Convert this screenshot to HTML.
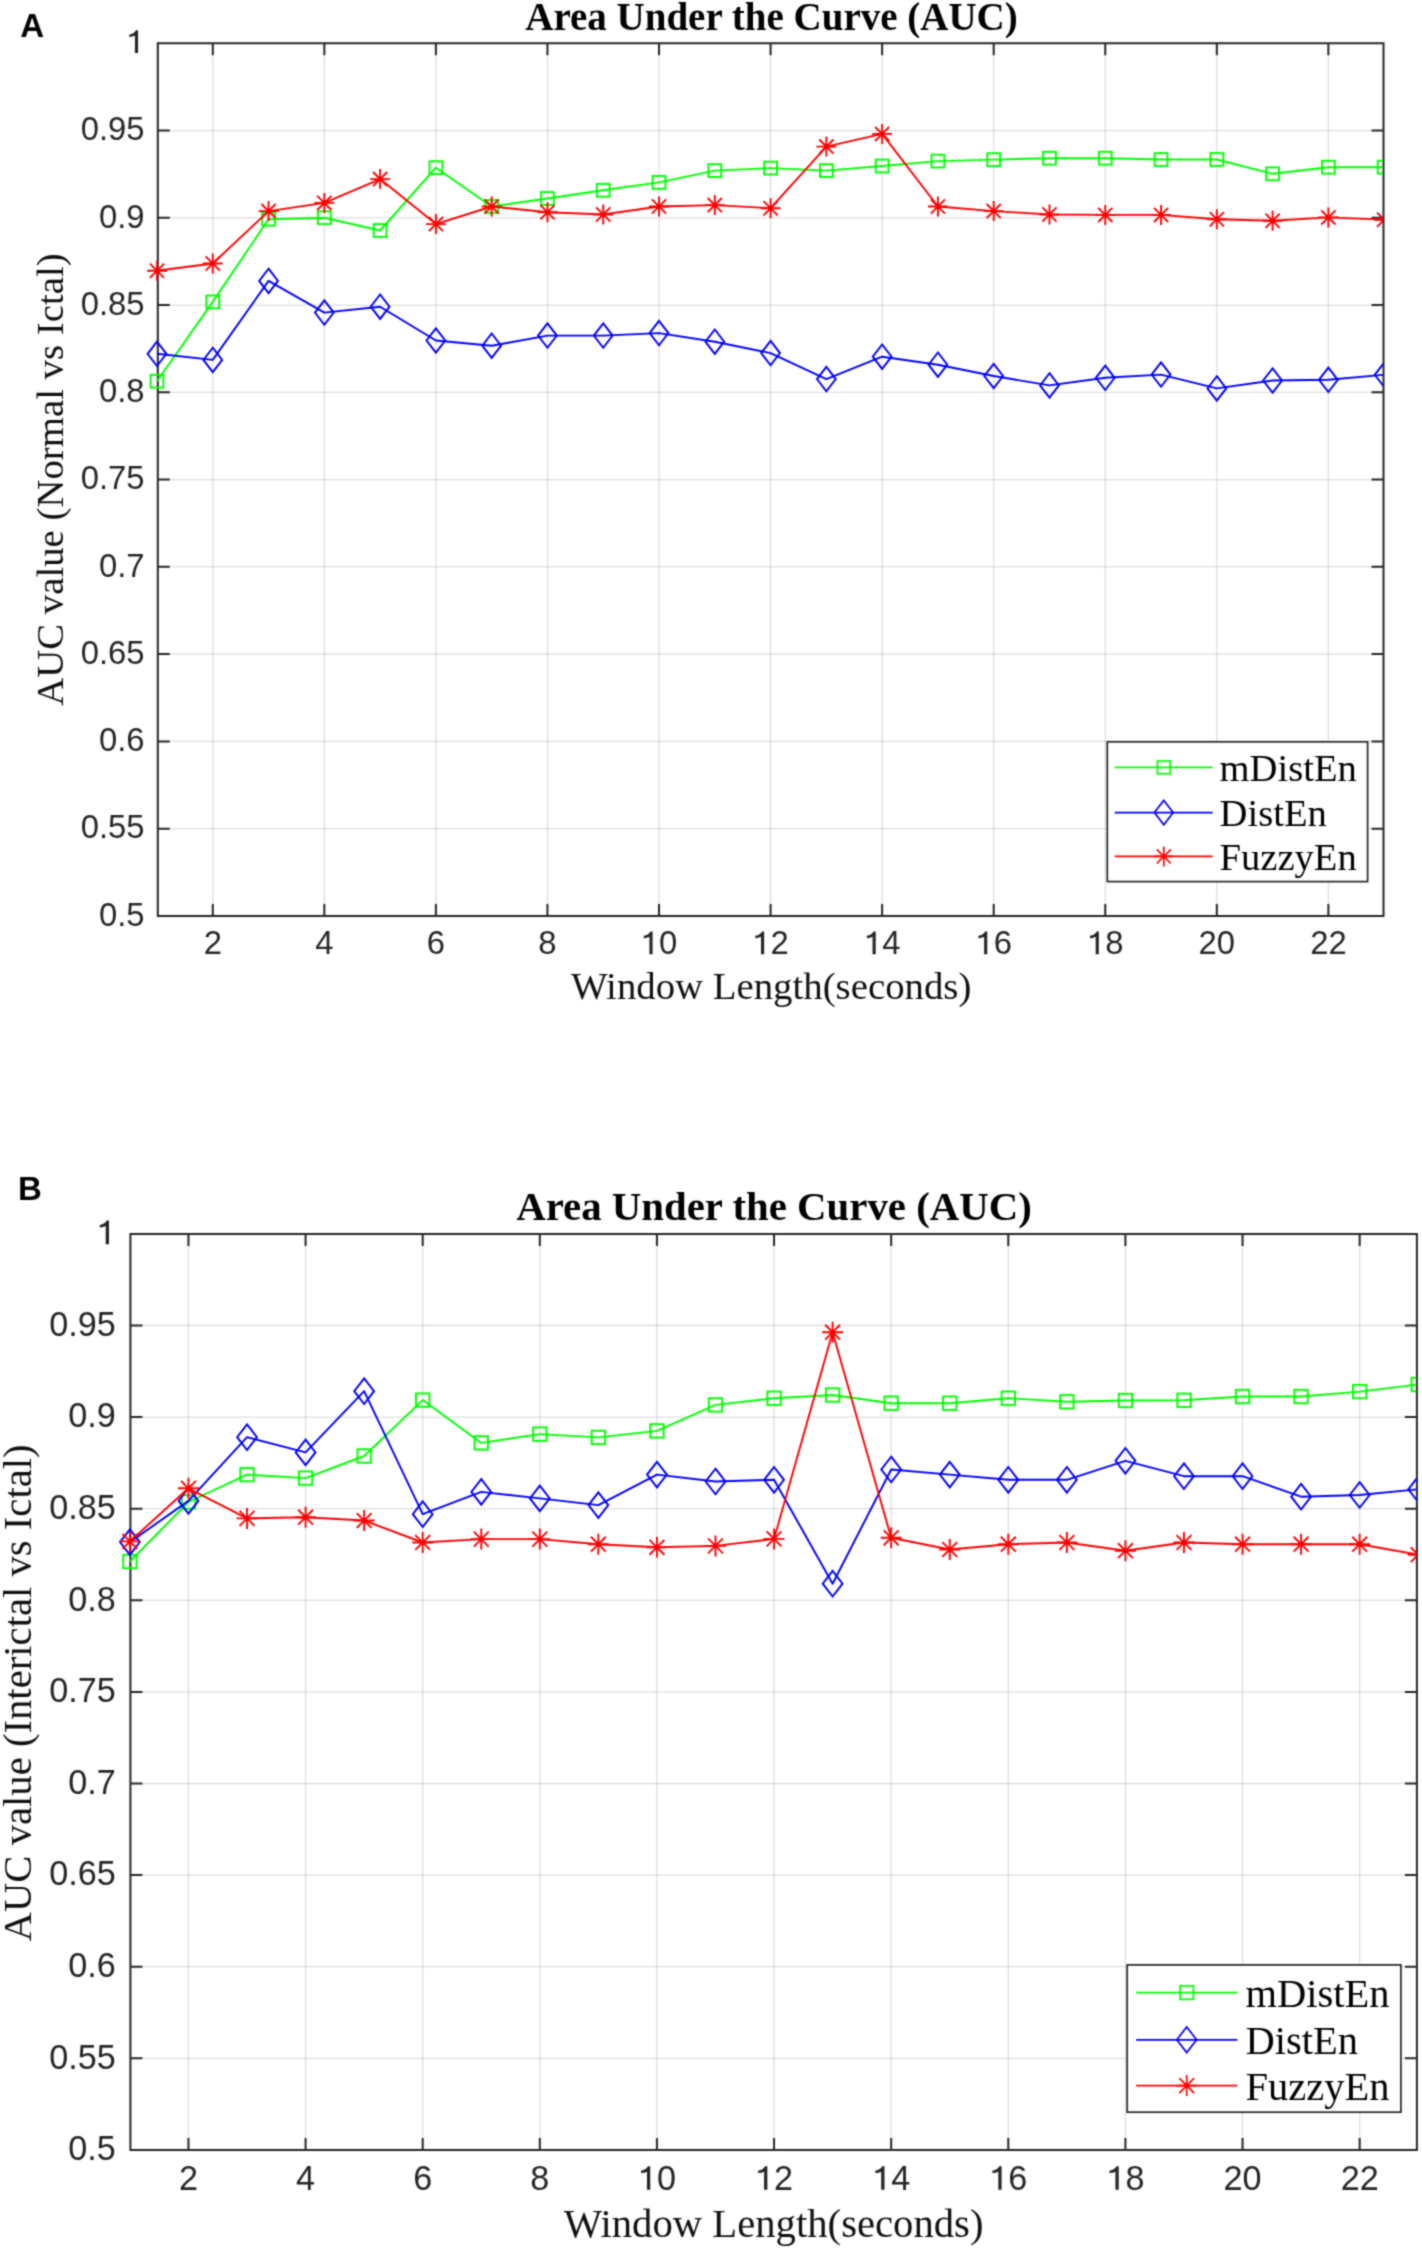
<!DOCTYPE html>
<html><head><meta charset="utf-8"><title>AUC</title>
<style>
html,body{margin:0;padding:0;background:#fff;}
body{width:1422px;height:2250px;overflow:hidden;}
svg{display:block;}
.tk{font-family:"Liberation Sans",sans-serif;fill:#262626;}
.tkg path{fill:#262626;}
.ttl{font-family:"Liberation Serif",serif;font-weight:bold;fill:#000;}
.lbl{font-family:"Liberation Serif",serif;fill:#111;}
.leg{font-family:"Liberation Serif",serif;fill:#000;}
.pl{font-family:"Liberation Sans",sans-serif;font-weight:bold;fill:#000;}
</style></head>
<body>
<svg width="1422" height="2250" viewBox="0 0 1422 2250">
<defs><clipPath id="clipa"><rect x="0" y="0" width="1383.00" height="2250"/></clipPath><clipPath id="clipb"><rect x="0" y="0" width="1416.40" height="2250"/></clipPath><filter id="soft" x="0" y="0" width="1422" height="2250" filterUnits="userSpaceOnUse" color-interpolation-filters="sRGB"><feConvolveMatrix order="3" kernelMatrix="0.04 0.12 0.04 0.12 0.36 0.12 0.04 0.12 0.04" edgeMode="duplicate"/></filter></defs>
<g filter="url(#soft)">
<rect width="1422" height="2250" fill="#fff"/>
<path d="M212.78 43.30V915.90M324.34 43.30V915.90M435.90 43.30V915.90M547.46 43.30V915.90M659.02 43.30V915.90M770.58 43.30V915.90M882.14 43.30V915.90M993.70 43.30V915.90M1105.26 43.30V915.90M1216.82 43.30V915.90M1328.38 43.30V915.90" stroke="#262626" stroke-opacity="0.15" stroke-width="1.3" fill="none"/>
<path d="M157.80 828.64H1383.50M157.80 741.38H1383.50M157.80 654.12H1383.50M157.80 566.86H1383.50M157.80 479.60H1383.50M157.80 392.34H1383.50M157.80 305.08H1383.50M157.80 217.82H1383.50M157.80 130.56H1383.50" stroke="#262626" stroke-opacity="0.15" stroke-width="1.3" fill="none"/>
<path d="M157.80 43.30H1383.50V915.90H157.80ZM212.78 915.90v-12M212.78 43.30v12M324.34 915.90v-12M324.34 43.30v12M435.90 915.90v-12M435.90 43.30v12M547.46 915.90v-12M547.46 43.30v12M659.02 915.90v-12M659.02 43.30v12M770.58 915.90v-12M770.58 43.30v12M882.14 915.90v-12M882.14 43.30v12M993.70 915.90v-12M993.70 43.30v12M1105.26 915.90v-12M1105.26 43.30v12M1216.82 915.90v-12M1216.82 43.30v12M1328.38 915.90v-12M1328.38 43.30v12M157.80 828.64h12M1383.50 828.64h-12M157.80 741.38h12M1383.50 741.38h-12M157.80 654.12h12M1383.50 654.12h-12M157.80 566.86h12M1383.50 566.86h-12M157.80 479.60h12M1383.50 479.60h-12M157.80 392.34h12M1383.50 392.34h-12M157.80 305.08h12M1383.50 305.08h-12M157.80 217.82h12M1383.50 217.82h-12M157.80 130.56h12M1383.50 130.56h-12" stroke="#262626" stroke-width="2.0" fill="none" stroke-linejoin="miter"/>
<g clip-path="url(#clipa)">
<polyline points="157.00,381.20 212.78,301.90 268.56,219.20 324.34,217.70 380.12,230.50 435.90,167.70 491.68,206.50 547.46,198.50 603.24,190.30 659.02,182.40 714.80,170.60 770.58,168.10 826.36,170.60 882.14,166.00 937.92,161.10 993.70,159.60 1049.48,158.20 1105.26,158.20 1161.04,159.50 1216.82,159.50 1272.60,173.80 1328.38,167.20 1384.16,167.20" fill="none" stroke="#00ff00" stroke-width="1.9" stroke-linejoin="round"/>
<g fill="none" stroke="#00ff00" stroke-width="1.9"><rect x="150.60" y="374.80" width="12.80" height="12.80"/><rect x="206.38" y="295.50" width="12.80" height="12.80"/><rect x="262.16" y="212.80" width="12.80" height="12.80"/><rect x="317.94" y="211.30" width="12.80" height="12.80"/><rect x="373.72" y="224.10" width="12.80" height="12.80"/><rect x="429.50" y="161.30" width="12.80" height="12.80"/><rect x="485.28" y="200.10" width="12.80" height="12.80"/><rect x="541.06" y="192.10" width="12.80" height="12.80"/><rect x="596.84" y="183.90" width="12.80" height="12.80"/><rect x="652.62" y="176.00" width="12.80" height="12.80"/><rect x="708.40" y="164.20" width="12.80" height="12.80"/><rect x="764.18" y="161.70" width="12.80" height="12.80"/><rect x="819.96" y="164.20" width="12.80" height="12.80"/><rect x="875.74" y="159.60" width="12.80" height="12.80"/><rect x="931.52" y="154.70" width="12.80" height="12.80"/><rect x="987.30" y="153.20" width="12.80" height="12.80"/><rect x="1043.08" y="151.80" width="12.80" height="12.80"/><rect x="1098.86" y="151.80" width="12.80" height="12.80"/><rect x="1154.64" y="153.10" width="12.80" height="12.80"/><rect x="1210.42" y="153.10" width="12.80" height="12.80"/><rect x="1266.20" y="167.40" width="12.80" height="12.80"/><rect x="1321.98" y="160.80" width="12.80" height="12.80"/><rect x="1377.76" y="160.80" width="12.80" height="12.80"/></g>
<polyline points="157.00,353.80 212.78,359.90 268.56,280.90 324.34,312.60 380.12,306.70 435.90,340.50 491.68,345.70 547.46,335.60 603.24,335.60 659.02,333.10 714.80,341.70 770.58,353.10 826.36,379.10 882.14,356.70 937.92,364.70 993.70,376.00 1049.48,385.40 1105.26,377.80 1161.04,374.60 1216.82,388.40 1272.60,380.50 1328.38,379.80 1384.16,374.80" fill="none" stroke="#0000ff" stroke-width="1.9" stroke-linejoin="round"/>
<g fill="none" stroke="#0000ff" stroke-width="1.9"><path d="M157.00 341.60L166.40 353.80L157.00 366.00L147.60 353.80Z"/><path d="M212.78 347.70L222.18 359.90L212.78 372.10L203.38 359.90Z"/><path d="M268.56 268.70L277.96 280.90L268.56 293.10L259.16 280.90Z"/><path d="M324.34 300.40L333.74 312.60L324.34 324.80L314.94 312.60Z"/><path d="M380.12 294.50L389.52 306.70L380.12 318.90L370.72 306.70Z"/><path d="M435.90 328.30L445.30 340.50L435.90 352.70L426.50 340.50Z"/><path d="M491.68 333.50L501.08 345.70L491.68 357.90L482.28 345.70Z"/><path d="M547.46 323.40L556.86 335.60L547.46 347.80L538.06 335.60Z"/><path d="M603.24 323.40L612.64 335.60L603.24 347.80L593.84 335.60Z"/><path d="M659.02 320.90L668.42 333.10L659.02 345.30L649.62 333.10Z"/><path d="M714.80 329.50L724.20 341.70L714.80 353.90L705.40 341.70Z"/><path d="M770.58 340.90L779.98 353.10L770.58 365.30L761.18 353.10Z"/><path d="M826.36 366.90L835.76 379.10L826.36 391.30L816.96 379.10Z"/><path d="M882.14 344.50L891.54 356.70L882.14 368.90L872.74 356.70Z"/><path d="M937.92 352.50L947.32 364.70L937.92 376.90L928.52 364.70Z"/><path d="M993.70 363.80L1003.10 376.00L993.70 388.20L984.30 376.00Z"/><path d="M1049.48 373.20L1058.88 385.40L1049.48 397.60L1040.08 385.40Z"/><path d="M1105.26 365.60L1114.66 377.80L1105.26 390.00L1095.86 377.80Z"/><path d="M1161.04 362.40L1170.44 374.60L1161.04 386.80L1151.64 374.60Z"/><path d="M1216.82 376.20L1226.22 388.40L1216.82 400.60L1207.42 388.40Z"/><path d="M1272.60 368.30L1282.00 380.50L1272.60 392.70L1263.20 380.50Z"/><path d="M1328.38 367.60L1337.78 379.80L1328.38 392.00L1318.98 379.80Z"/><path d="M1384.16 362.60L1393.56 374.80L1384.16 387.00L1374.76 374.80Z"/></g>
<polyline points="157.00,270.80 212.78,263.50 268.56,211.10 324.34,202.90 380.12,179.10 435.90,224.10 491.68,206.50 547.46,212.20 603.24,214.50 659.02,206.50 714.80,205.10 770.58,208.20 826.36,146.60 882.14,133.90 937.92,206.50 993.70,211.10 1049.48,214.50 1105.26,214.90 1161.04,214.90 1216.82,219.20 1272.60,220.80 1328.38,217.40 1384.16,219.70" fill="none" stroke="#ff0000" stroke-width="1.9" stroke-linejoin="round"/>
<g fill="none" stroke="#ff0000" stroke-width="1.9"><path d="M147.00 270.80H167.00M157.00 260.80V280.80M149.90 263.70L164.10 277.90M149.90 277.90L164.10 263.70"/><path d="M202.78 263.50H222.78M212.78 253.50V273.50M205.68 256.40L219.88 270.60M205.68 270.60L219.88 256.40"/><path d="M258.56 211.10H278.56M268.56 201.10V221.10M261.46 204.00L275.66 218.20M261.46 218.20L275.66 204.00"/><path d="M314.34 202.90H334.34M324.34 192.90V212.90M317.24 195.80L331.44 210.00M317.24 210.00L331.44 195.80"/><path d="M370.12 179.10H390.12M380.12 169.10V189.10M373.02 172.00L387.22 186.20M373.02 186.20L387.22 172.00"/><path d="M425.90 224.10H445.90M435.90 214.10V234.10M428.80 217.00L443.00 231.20M428.80 231.20L443.00 217.00"/><path d="M481.68 206.50H501.68M491.68 196.50V216.50M484.58 199.40L498.78 213.60M484.58 213.60L498.78 199.40"/><path d="M537.46 212.20H557.46M547.46 202.20V222.20M540.36 205.10L554.56 219.30M540.36 219.30L554.56 205.10"/><path d="M593.24 214.50H613.24M603.24 204.50V224.50M596.14 207.40L610.34 221.60M596.14 221.60L610.34 207.40"/><path d="M649.02 206.50H669.02M659.02 196.50V216.50M651.92 199.40L666.12 213.60M651.92 213.60L666.12 199.40"/><path d="M704.80 205.10H724.80M714.80 195.10V215.10M707.70 198.00L721.90 212.20M707.70 212.20L721.90 198.00"/><path d="M760.58 208.20H780.58M770.58 198.20V218.20M763.48 201.10L777.68 215.30M763.48 215.30L777.68 201.10"/><path d="M816.36 146.60H836.36M826.36 136.60V156.60M819.26 139.50L833.46 153.70M819.26 153.70L833.46 139.50"/><path d="M872.14 133.90H892.14M882.14 123.90V143.90M875.04 126.80L889.24 141.00M875.04 141.00L889.24 126.80"/><path d="M927.92 206.50H947.92M937.92 196.50V216.50M930.82 199.40L945.02 213.60M930.82 213.60L945.02 199.40"/><path d="M983.70 211.10H1003.70M993.70 201.10V221.10M986.60 204.00L1000.80 218.20M986.60 218.20L1000.80 204.00"/><path d="M1039.48 214.50H1059.48M1049.48 204.50V224.50M1042.38 207.40L1056.58 221.60M1042.38 221.60L1056.58 207.40"/><path d="M1095.26 214.90H1115.26M1105.26 204.90V224.90M1098.16 207.80L1112.36 222.00M1098.16 222.00L1112.36 207.80"/><path d="M1151.04 214.90H1171.04M1161.04 204.90V224.90M1153.94 207.80L1168.14 222.00M1153.94 222.00L1168.14 207.80"/><path d="M1206.82 219.20H1226.82M1216.82 209.20V229.20M1209.72 212.10L1223.92 226.30M1209.72 226.30L1223.92 212.10"/><path d="M1262.60 220.80H1282.60M1272.60 210.80V230.80M1265.50 213.70L1279.70 227.90M1265.50 227.90L1279.70 213.70"/><path d="M1318.38 217.40H1338.38M1328.38 207.40V227.40M1321.28 210.30L1335.48 224.50M1321.28 224.50L1335.48 210.30"/><path d="M1374.16 219.70H1394.16M1384.16 209.70V229.70M1377.06 212.60L1391.26 226.80M1377.06 226.80L1391.26 212.60"/></g>
</g>
<text x="203.66" y="954.20" class="tk" font-size="32.8">2</text>
<text x="315.22" y="954.20" class="tk" font-size="32.8">4</text>
<text x="426.78" y="954.20" class="tk" font-size="32.8">6</text>
<text x="538.34" y="954.20" class="tk" font-size="32.8">8</text>
<path d="M649.44 954.20L652.59 954.20L652.59 931.57L650.43 931.57Q648.98 934.85 643.74 935.83L643.74 938.19Q647.51 937.93 649.44 936.82Z" fill="#262626"/><text x="659.02" y="954.20" class="tk" font-size="32.8">0</text>
<path d="M761.00 954.20L764.15 954.20L764.15 931.57L761.99 931.57Q760.54 934.85 755.30 935.83L755.30 938.19Q759.07 937.93 761.00 936.82Z" fill="#262626"/><text x="770.58" y="954.20" class="tk" font-size="32.8">2</text>
<path d="M872.56 954.20L875.71 954.20L875.71 931.57L873.55 931.57Q872.10 934.85 866.86 935.83L866.86 938.19Q870.63 937.93 872.56 936.82Z" fill="#262626"/><text x="882.14" y="954.20" class="tk" font-size="32.8">4</text>
<path d="M984.12 954.20L987.27 954.20L987.27 931.57L985.11 931.57Q983.66 934.85 978.42 935.83L978.42 938.19Q982.19 937.93 984.12 936.82Z" fill="#262626"/><text x="993.70" y="954.20" class="tk" font-size="32.8">6</text>
<path d="M1095.68 954.20L1098.83 954.20L1098.83 931.57L1096.67 931.57Q1095.22 934.85 1089.98 935.83L1089.98 938.19Q1093.75 937.93 1095.68 936.82Z" fill="#262626"/><text x="1105.26" y="954.20" class="tk" font-size="32.8">8</text>
<text x="1198.58" y="954.20" class="tk" font-size="32.8">2</text><text x="1216.82" y="954.20" class="tk" font-size="32.8">0</text>
<text x="1310.14" y="954.20" class="tk" font-size="32.8">2</text><text x="1328.38" y="954.20" class="tk" font-size="32.8">2</text>
<text x="98.91" y="925.60" class="tk" font-size="32.8">0</text><text x="117.14" y="925.60" class="tk" font-size="32.8">.</text><text x="126.26" y="925.60" class="tk" font-size="32.8">5</text>
<text x="80.67" y="838.34" class="tk" font-size="32.8">0</text><text x="98.91" y="838.34" class="tk" font-size="32.8">.</text><text x="108.03" y="838.34" class="tk" font-size="32.8">5</text><text x="126.26" y="838.34" class="tk" font-size="32.8">5</text>
<text x="98.91" y="751.08" class="tk" font-size="32.8">0</text><text x="117.14" y="751.08" class="tk" font-size="32.8">.</text><text x="126.26" y="751.08" class="tk" font-size="32.8">6</text>
<text x="80.67" y="663.82" class="tk" font-size="32.8">0</text><text x="98.91" y="663.82" class="tk" font-size="32.8">.</text><text x="108.03" y="663.82" class="tk" font-size="32.8">6</text><text x="126.26" y="663.82" class="tk" font-size="32.8">5</text>
<text x="98.91" y="576.56" class="tk" font-size="32.8">0</text><text x="117.14" y="576.56" class="tk" font-size="32.8">.</text><text x="126.26" y="576.56" class="tk" font-size="32.8">7</text>
<text x="80.67" y="489.30" class="tk" font-size="32.8">0</text><text x="98.91" y="489.30" class="tk" font-size="32.8">.</text><text x="108.03" y="489.30" class="tk" font-size="32.8">7</text><text x="126.26" y="489.30" class="tk" font-size="32.8">5</text>
<text x="98.91" y="402.04" class="tk" font-size="32.8">0</text><text x="117.14" y="402.04" class="tk" font-size="32.8">.</text><text x="126.26" y="402.04" class="tk" font-size="32.8">8</text>
<text x="80.67" y="314.78" class="tk" font-size="32.8">0</text><text x="98.91" y="314.78" class="tk" font-size="32.8">.</text><text x="108.03" y="314.78" class="tk" font-size="32.8">8</text><text x="126.26" y="314.78" class="tk" font-size="32.8">5</text>
<text x="98.91" y="227.52" class="tk" font-size="32.8">0</text><text x="117.14" y="227.52" class="tk" font-size="32.8">.</text><text x="126.26" y="227.52" class="tk" font-size="32.8">9</text>
<text x="80.67" y="140.26" class="tk" font-size="32.8">0</text><text x="98.91" y="140.26" class="tk" font-size="32.8">.</text><text x="108.03" y="140.26" class="tk" font-size="32.8">9</text><text x="126.26" y="140.26" class="tk" font-size="32.8">5</text>
<path d="M134.92 53.00L138.07 53.00L138.07 30.37L135.91 30.37Q134.46 33.65 129.22 34.63L129.22 36.99Q132.99 36.73 134.92 35.62Z" fill="#262626"/>
<text x="771.50" y="29.50" text-anchor="middle" class="ttl" font-size="39.0">Area Under the Curve (AUC)</text>
<text x="771.20" y="999.30" text-anchor="middle" class="lbl" font-size="38.8">Window Length(seconds)</text>
<text transform="translate(63.30 479.60) rotate(-90)" text-anchor="middle" class="lbl" font-size="38.8">AUC value (Normal vs Ictal)</text>
<rect x="1107.3" y="741.8" width="260.29999999999995" height="139.80000000000007" fill="#fff" stroke="#262626" stroke-width="1.7"/>
<path d="M1114.7 767.4H1212.7" stroke="#00ff00" stroke-width="1.7"/>
<g fill="none" stroke="#00ff00" stroke-width="1.7"><rect x="1157.40" y="761.00" width="12.80" height="12.80"/></g>
<text x="1219.6" y="780.80" class="leg" font-size="38.6">mDistEn</text>
<path d="M1114.7 812.6H1212.7" stroke="#0000ff" stroke-width="1.7"/>
<g fill="none" stroke="#0000ff" stroke-width="1.7"><path d="M1163.80 800.40L1173.20 812.60L1163.80 824.80L1154.40 812.60Z"/></g>
<text x="1219.6" y="826.00" class="leg" font-size="38.6">DistEn</text>
<path d="M1114.7 856.4H1212.7" stroke="#ff0000" stroke-width="1.7"/>
<g fill="none" stroke="#ff0000" stroke-width="1.7"><path d="M1153.80 856.40H1173.80M1163.80 846.40V866.40M1156.70 849.30L1170.90 863.50M1156.70 863.50L1170.90 849.30"/></g>
<text x="1219.6" y="869.80" class="leg" font-size="38.6">FuzzyEn</text>
<text x="20.2" y="36.8" class="pl" font-size="33">A</text>
<path d="M188.46 1233.90V2149.90M305.58 1233.90V2149.90M422.70 1233.90V2149.90M539.82 1233.90V2149.90M656.94 1233.90V2149.90M774.06 1233.90V2149.90M891.18 1233.90V2149.90M1008.30 1233.90V2149.90M1125.42 1233.90V2149.90M1242.54 1233.90V2149.90M1359.66 1233.90V2149.90" stroke="#262626" stroke-opacity="0.15" stroke-width="1.3" fill="none"/>
<path d="M130.40 2058.30H1416.90M130.40 1966.70H1416.90M130.40 1875.10H1416.90M130.40 1783.50H1416.90M130.40 1691.90H1416.90M130.40 1600.30H1416.90M130.40 1508.70H1416.90M130.40 1417.10H1416.90M130.40 1325.50H1416.90" stroke="#262626" stroke-opacity="0.15" stroke-width="1.3" fill="none"/>
<path d="M130.40 1233.90H1416.90V2149.90H130.40ZM188.46 2149.90v-12M188.46 1233.90v12M305.58 2149.90v-12M305.58 1233.90v12M422.70 2149.90v-12M422.70 1233.90v12M539.82 2149.90v-12M539.82 1233.90v12M656.94 2149.90v-12M656.94 1233.90v12M774.06 2149.90v-12M774.06 1233.90v12M891.18 2149.90v-12M891.18 1233.90v12M1008.30 2149.90v-12M1008.30 1233.90v12M1125.42 2149.90v-12M1125.42 1233.90v12M1242.54 2149.90v-12M1242.54 1233.90v12M1359.66 2149.90v-12M1359.66 1233.90v12M130.40 2058.30h12M1416.90 2058.30h-12M130.40 1966.70h12M1416.90 1966.70h-12M130.40 1875.10h12M1416.90 1875.10h-12M130.40 1783.50h12M1416.90 1783.50h-12M130.40 1691.90h12M1416.90 1691.90h-12M130.40 1600.30h12M1416.90 1600.30h-12M130.40 1508.70h12M1416.90 1508.70h-12M130.40 1417.10h12M1416.90 1417.10h-12M130.40 1325.50h12M1416.90 1325.50h-12" stroke="#262626" stroke-width="2.0" fill="none" stroke-linejoin="miter"/>
<g clip-path="url(#clipb)">
<polyline points="129.90,1561.50 188.46,1502.00 247.02,1474.60 305.58,1478.10 364.14,1456.00 422.70,1400.10 481.26,1442.90 539.82,1434.10 598.38,1437.40 656.94,1430.90 715.50,1404.90 774.06,1398.20 832.62,1395.00 891.18,1403.20 949.74,1403.20 1008.30,1398.20 1066.86,1401.80 1125.42,1400.50 1183.98,1400.30 1242.54,1396.50 1301.10,1396.50 1359.66,1391.60 1418.22,1384.50" fill="none" stroke="#00ff00" stroke-width="1.9" stroke-linejoin="round"/>
<g fill="none" stroke="#00ff00" stroke-width="1.9"><rect x="123.20" y="1554.80" width="13.40" height="13.40"/><rect x="181.76" y="1495.30" width="13.40" height="13.40"/><rect x="240.32" y="1467.90" width="13.40" height="13.40"/><rect x="298.88" y="1471.40" width="13.40" height="13.40"/><rect x="357.44" y="1449.30" width="13.40" height="13.40"/><rect x="416.00" y="1393.40" width="13.40" height="13.40"/><rect x="474.56" y="1436.20" width="13.40" height="13.40"/><rect x="533.12" y="1427.40" width="13.40" height="13.40"/><rect x="591.68" y="1430.70" width="13.40" height="13.40"/><rect x="650.24" y="1424.20" width="13.40" height="13.40"/><rect x="708.80" y="1398.20" width="13.40" height="13.40"/><rect x="767.36" y="1391.50" width="13.40" height="13.40"/><rect x="825.92" y="1388.30" width="13.40" height="13.40"/><rect x="884.48" y="1396.50" width="13.40" height="13.40"/><rect x="943.04" y="1396.50" width="13.40" height="13.40"/><rect x="1001.60" y="1391.50" width="13.40" height="13.40"/><rect x="1060.16" y="1395.10" width="13.40" height="13.40"/><rect x="1118.72" y="1393.80" width="13.40" height="13.40"/><rect x="1177.28" y="1393.60" width="13.40" height="13.40"/><rect x="1235.84" y="1389.80" width="13.40" height="13.40"/><rect x="1294.40" y="1389.80" width="13.40" height="13.40"/><rect x="1352.96" y="1384.90" width="13.40" height="13.40"/><rect x="1411.52" y="1377.80" width="13.40" height="13.40"/></g>
<polyline points="129.90,1542.10 188.46,1500.90 247.02,1437.20 305.58,1452.40 364.14,1391.20 422.70,1514.20 481.26,1491.90 539.82,1498.40 598.38,1505.10 656.94,1474.60 715.50,1481.50 774.06,1479.80 832.62,1583.70 891.18,1469.50 949.74,1474.60 1008.30,1479.80 1066.86,1479.80 1125.42,1460.80 1183.98,1476.20 1242.54,1476.20 1301.10,1496.70 1359.66,1495.00 1418.22,1489.30" fill="none" stroke="#0000ff" stroke-width="1.9" stroke-linejoin="round"/>
<g fill="none" stroke="#0000ff" stroke-width="1.9"><path d="M129.90 1529.30L139.80 1542.10L129.90 1554.90L120.00 1542.10Z"/><path d="M188.46 1488.10L198.36 1500.90L188.46 1513.70L178.56 1500.90Z"/><path d="M247.02 1424.40L256.92 1437.20L247.02 1450.00L237.12 1437.20Z"/><path d="M305.58 1439.60L315.48 1452.40L305.58 1465.20L295.68 1452.40Z"/><path d="M364.14 1378.40L374.04 1391.20L364.14 1404.00L354.24 1391.20Z"/><path d="M422.70 1501.40L432.60 1514.20L422.70 1527.00L412.80 1514.20Z"/><path d="M481.26 1479.10L491.16 1491.90L481.26 1504.70L471.36 1491.90Z"/><path d="M539.82 1485.60L549.72 1498.40L539.82 1511.20L529.92 1498.40Z"/><path d="M598.38 1492.30L608.28 1505.10L598.38 1517.90L588.48 1505.10Z"/><path d="M656.94 1461.80L666.84 1474.60L656.94 1487.40L647.04 1474.60Z"/><path d="M715.50 1468.70L725.40 1481.50L715.50 1494.30L705.60 1481.50Z"/><path d="M774.06 1467.00L783.96 1479.80L774.06 1492.60L764.16 1479.80Z"/><path d="M832.62 1570.90L842.52 1583.70L832.62 1596.50L822.72 1583.70Z"/><path d="M891.18 1456.70L901.08 1469.50L891.18 1482.30L881.28 1469.50Z"/><path d="M949.74 1461.80L959.64 1474.60L949.74 1487.40L939.84 1474.60Z"/><path d="M1008.30 1467.00L1018.20 1479.80L1008.30 1492.60L998.40 1479.80Z"/><path d="M1066.86 1467.00L1076.76 1479.80L1066.86 1492.60L1056.96 1479.80Z"/><path d="M1125.42 1448.00L1135.32 1460.80L1125.42 1473.60L1115.52 1460.80Z"/><path d="M1183.98 1463.40L1193.88 1476.20L1183.98 1489.00L1174.08 1476.20Z"/><path d="M1242.54 1463.40L1252.44 1476.20L1242.54 1489.00L1232.64 1476.20Z"/><path d="M1301.10 1483.90L1311.00 1496.70L1301.10 1509.50L1291.20 1496.70Z"/><path d="M1359.66 1482.20L1369.56 1495.00L1359.66 1507.80L1349.76 1495.00Z"/><path d="M1418.22 1476.50L1428.12 1489.30L1418.22 1502.10L1408.32 1489.30Z"/></g>
<polyline points="129.90,1541.40 188.46,1488.30 247.02,1518.40 305.58,1517.20 364.14,1520.50 422.70,1542.50 481.26,1539.10 539.82,1539.10 598.38,1544.20 656.94,1547.30 715.50,1545.90 774.06,1538.90 832.62,1332.20 891.18,1537.80 949.74,1549.50 1008.30,1544.20 1066.86,1542.50 1125.42,1550.70 1183.98,1542.50 1242.54,1544.20 1301.10,1544.20 1359.66,1544.20 1418.22,1554.70" fill="none" stroke="#ff0000" stroke-width="1.9" stroke-linejoin="round"/>
<g fill="none" stroke="#ff0000" stroke-width="1.9"><path d="M119.40 1541.40H140.40M129.90 1530.90V1551.90M122.45 1533.95L137.35 1548.85M122.45 1548.85L137.35 1533.95"/><path d="M177.96 1488.30H198.96M188.46 1477.80V1498.80M181.01 1480.85L195.91 1495.75M181.01 1495.75L195.91 1480.85"/><path d="M236.52 1518.40H257.52M247.02 1507.90V1528.90M239.57 1510.95L254.47 1525.85M239.57 1525.85L254.47 1510.95"/><path d="M295.08 1517.20H316.08M305.58 1506.70V1527.70M298.13 1509.75L313.03 1524.65M298.13 1524.65L313.03 1509.75"/><path d="M353.64 1520.50H374.64M364.14 1510.00V1531.00M356.69 1513.05L371.59 1527.95M356.69 1527.95L371.59 1513.05"/><path d="M412.20 1542.50H433.20M422.70 1532.00V1553.00M415.25 1535.05L430.15 1549.95M415.25 1549.95L430.15 1535.05"/><path d="M470.76 1539.10H491.76M481.26 1528.60V1549.60M473.81 1531.65L488.71 1546.55M473.81 1546.55L488.71 1531.65"/><path d="M529.32 1539.10H550.32M539.82 1528.60V1549.60M532.37 1531.65L547.27 1546.55M532.37 1546.55L547.27 1531.65"/><path d="M587.88 1544.20H608.88M598.38 1533.70V1554.70M590.93 1536.75L605.83 1551.65M590.93 1551.65L605.83 1536.75"/><path d="M646.44 1547.30H667.44M656.94 1536.80V1557.80M649.49 1539.85L664.39 1554.75M649.49 1554.75L664.39 1539.85"/><path d="M705.00 1545.90H726.00M715.50 1535.40V1556.40M708.05 1538.45L722.95 1553.35M708.05 1553.35L722.95 1538.45"/><path d="M763.56 1538.90H784.56M774.06 1528.40V1549.40M766.61 1531.45L781.51 1546.35M766.61 1546.35L781.51 1531.45"/><path d="M822.12 1332.20H843.12M832.62 1321.70V1342.70M825.17 1324.75L840.07 1339.65M825.17 1339.65L840.07 1324.75"/><path d="M880.68 1537.80H901.68M891.18 1527.30V1548.30M883.73 1530.35L898.63 1545.25M883.73 1545.25L898.63 1530.35"/><path d="M939.24 1549.50H960.24M949.74 1539.00V1560.00M942.29 1542.05L957.19 1556.95M942.29 1556.95L957.19 1542.05"/><path d="M997.80 1544.20H1018.80M1008.30 1533.70V1554.70M1000.85 1536.75L1015.75 1551.65M1000.85 1551.65L1015.75 1536.75"/><path d="M1056.36 1542.50H1077.36M1066.86 1532.00V1553.00M1059.41 1535.05L1074.31 1549.95M1059.41 1549.95L1074.31 1535.05"/><path d="M1114.92 1550.70H1135.92M1125.42 1540.20V1561.20M1117.97 1543.25L1132.87 1558.15M1117.97 1558.15L1132.87 1543.25"/><path d="M1173.48 1542.50H1194.48M1183.98 1532.00V1553.00M1176.53 1535.05L1191.43 1549.95M1176.53 1549.95L1191.43 1535.05"/><path d="M1232.04 1544.20H1253.04M1242.54 1533.70V1554.70M1235.09 1536.75L1249.99 1551.65M1235.09 1551.65L1249.99 1536.75"/><path d="M1290.60 1544.20H1311.60M1301.10 1533.70V1554.70M1293.65 1536.75L1308.55 1551.65M1293.65 1551.65L1308.55 1536.75"/><path d="M1349.16 1544.20H1370.16M1359.66 1533.70V1554.70M1352.21 1536.75L1367.11 1551.65M1352.21 1551.65L1367.11 1536.75"/><path d="M1407.72 1554.70H1428.72M1418.22 1544.20V1565.20M1410.77 1547.25L1425.67 1562.15M1410.77 1562.15L1425.67 1547.25"/></g>
</g>
<text x="178.95" y="2189.80" class="tk" font-size="34.2">2</text>
<text x="296.07" y="2189.80" class="tk" font-size="34.2">4</text>
<text x="413.19" y="2189.80" class="tk" font-size="34.2">6</text>
<text x="530.31" y="2189.80" class="tk" font-size="34.2">8</text>
<path d="M646.95 2189.80L650.24 2189.80L650.24 2166.20L647.98 2166.20Q646.47 2169.62 641.00 2170.65L641.00 2173.11Q644.94 2172.84 646.95 2171.67Z" fill="#262626"/><text x="656.94" y="2189.80" class="tk" font-size="34.2">0</text>
<path d="M764.07 2189.80L767.36 2189.80L767.36 2166.20L765.10 2166.20Q763.59 2169.62 758.12 2170.65L758.12 2173.11Q762.06 2172.84 764.07 2171.67Z" fill="#262626"/><text x="774.06" y="2189.80" class="tk" font-size="34.2">2</text>
<path d="M881.19 2189.80L884.48 2189.80L884.48 2166.20L882.22 2166.20Q880.71 2169.62 875.24 2170.65L875.24 2173.11Q879.18 2172.84 881.19 2171.67Z" fill="#262626"/><text x="891.18" y="2189.80" class="tk" font-size="34.2">4</text>
<path d="M998.31 2189.80L1001.60 2189.80L1001.60 2166.20L999.34 2166.20Q997.83 2169.62 992.36 2170.65L992.36 2173.11Q996.30 2172.84 998.31 2171.67Z" fill="#262626"/><text x="1008.30" y="2189.80" class="tk" font-size="34.2">6</text>
<path d="M1115.43 2189.80L1118.72 2189.80L1118.72 2166.20L1116.46 2166.20Q1114.95 2169.62 1109.48 2170.65L1109.48 2173.11Q1113.42 2172.84 1115.43 2171.67Z" fill="#262626"/><text x="1125.42" y="2189.80" class="tk" font-size="34.2">8</text>
<text x="1223.52" y="2189.80" class="tk" font-size="34.2">2</text><text x="1242.54" y="2189.80" class="tk" font-size="34.2">0</text>
<text x="1340.64" y="2189.80" class="tk" font-size="34.2">2</text><text x="1359.66" y="2189.80" class="tk" font-size="34.2">2</text>
<text x="68.16" y="2160.20" class="tk" font-size="34.2">0</text><text x="87.18" y="2160.20" class="tk" font-size="34.2">.</text><text x="96.68" y="2160.20" class="tk" font-size="34.2">5</text>
<text x="49.15" y="2068.60" class="tk" font-size="34.2">0</text><text x="68.16" y="2068.60" class="tk" font-size="34.2">.</text><text x="77.67" y="2068.60" class="tk" font-size="34.2">5</text><text x="96.68" y="2068.60" class="tk" font-size="34.2">5</text>
<text x="68.16" y="1977.00" class="tk" font-size="34.2">0</text><text x="87.18" y="1977.00" class="tk" font-size="34.2">.</text><text x="96.68" y="1977.00" class="tk" font-size="34.2">6</text>
<text x="49.15" y="1885.40" class="tk" font-size="34.2">0</text><text x="68.16" y="1885.40" class="tk" font-size="34.2">.</text><text x="77.67" y="1885.40" class="tk" font-size="34.2">6</text><text x="96.68" y="1885.40" class="tk" font-size="34.2">5</text>
<text x="68.16" y="1793.80" class="tk" font-size="34.2">0</text><text x="87.18" y="1793.80" class="tk" font-size="34.2">.</text><text x="96.68" y="1793.80" class="tk" font-size="34.2">7</text>
<text x="49.15" y="1702.20" class="tk" font-size="34.2">0</text><text x="68.16" y="1702.20" class="tk" font-size="34.2">.</text><text x="77.67" y="1702.20" class="tk" font-size="34.2">7</text><text x="96.68" y="1702.20" class="tk" font-size="34.2">5</text>
<text x="68.16" y="1610.60" class="tk" font-size="34.2">0</text><text x="87.18" y="1610.60" class="tk" font-size="34.2">.</text><text x="96.68" y="1610.60" class="tk" font-size="34.2">8</text>
<text x="49.15" y="1519.00" class="tk" font-size="34.2">0</text><text x="68.16" y="1519.00" class="tk" font-size="34.2">.</text><text x="77.67" y="1519.00" class="tk" font-size="34.2">8</text><text x="96.68" y="1519.00" class="tk" font-size="34.2">5</text>
<text x="68.16" y="1427.40" class="tk" font-size="34.2">0</text><text x="87.18" y="1427.40" class="tk" font-size="34.2">.</text><text x="96.68" y="1427.40" class="tk" font-size="34.2">9</text>
<text x="49.15" y="1335.80" class="tk" font-size="34.2">0</text><text x="68.16" y="1335.80" class="tk" font-size="34.2">.</text><text x="77.67" y="1335.80" class="tk" font-size="34.2">9</text><text x="96.68" y="1335.80" class="tk" font-size="34.2">5</text>
<path d="M105.71 1244.20L109.00 1244.20L109.00 1220.60L106.74 1220.60Q105.23 1224.02 99.76 1225.05L99.76 1227.51Q103.70 1227.24 105.71 1226.07Z" fill="#262626"/>
<text x="774.00" y="1219.50" text-anchor="middle" class="ttl" font-size="40.85">Area Under the Curve (AUC)</text>
<text x="773.60" y="2237.20" text-anchor="middle" class="lbl" font-size="40.7">Window Length(seconds)</text>
<text transform="translate(31.00 1692.90) rotate(-90)" text-anchor="middle" class="lbl" font-size="40.7">AUC value (Interictal vs Ictal)</text>
<rect x="1127.2" y="1964.9" width="273.70000000000005" height="147.29999999999973" fill="#fff" stroke="#262626" stroke-width="1.7"/>
<path d="M1136.1 1992.6H1237.4" stroke="#00ff00" stroke-width="1.7"/>
<g fill="none" stroke="#00ff00" stroke-width="1.7"><rect x="1180.00" y="1985.90" width="13.40" height="13.40"/></g>
<text x="1245.6" y="2006.60" class="leg" font-size="40.5">mDistEn</text>
<path d="M1136.1 2039.8H1237.4" stroke="#0000ff" stroke-width="1.7"/>
<g fill="none" stroke="#0000ff" stroke-width="1.7"><path d="M1186.70 2027.00L1196.60 2039.80L1186.70 2052.60L1176.80 2039.80Z"/></g>
<text x="1245.6" y="2053.80" class="leg" font-size="40.5">DistEn</text>
<path d="M1136.1 2085.6H1237.4" stroke="#ff0000" stroke-width="1.7"/>
<g fill="none" stroke="#ff0000" stroke-width="1.7"><path d="M1176.20 2085.60H1197.20M1186.70 2075.10V2096.10M1179.25 2078.15L1194.15 2093.05M1179.25 2093.05L1194.15 2078.15"/></g>
<text x="1245.6" y="2099.60" class="leg" font-size="40.5">FuzzyEn</text>
<text x="18" y="1199.7" class="pl" font-size="33">B</text>
</g>
</svg>
</body></html>
